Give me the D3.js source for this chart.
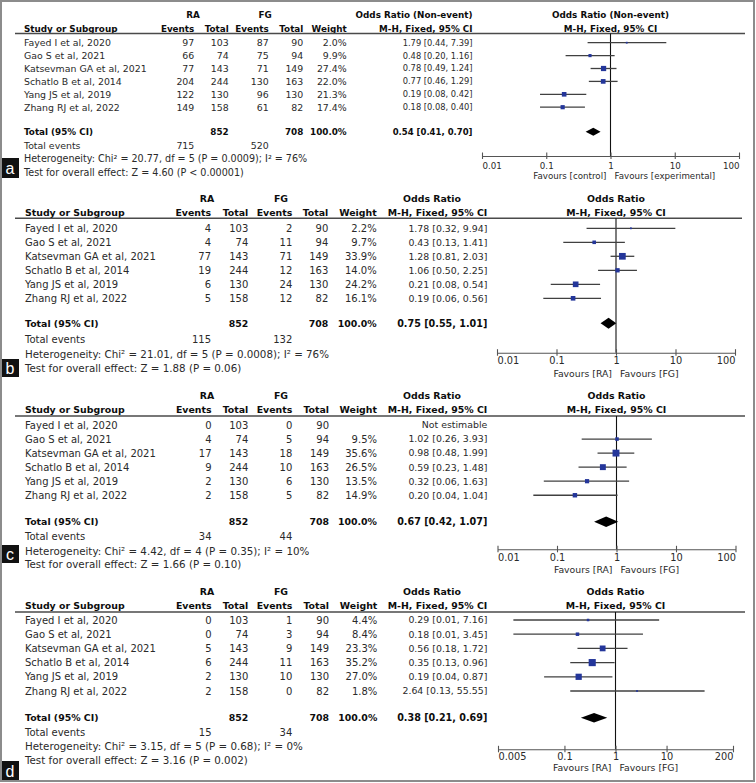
<!DOCTYPE html>
<html><head><meta charset="utf-8">
<script src="https://cdn.jsdelivr.net/npm/d3@7"></script>
<style>
body{margin:0;background:#fff;}
svg{display:block;font-family:"DejaVu Sans",sans-serif;}
</style></head><body>
<svg id="chart" width="756" height="783"></svg>
<script>
// ---------- data ----------
const studies = ["Fayed I et al, 2020","Gao S et al, 2021","Katsevman GA et al, 2021","Schatlo B et al, 2014","Yang JS et al, 2019","Zhang RJ et al, 2022"];
const raTotals = [103,74,143,244,130,158];
const fgTotals = [90,94,149,163,130,82];
const grandTotals = [852,708];

const raEventsA = [97,66,77,204,122,149];
const fgEventsA = [87,75,71,130,96,61];
const weightsA = [2.0,9.9,27.4,22.0,21.3,17.4];
const orA = [1.79,0.48,0.78,0.77,0.19,0.18];
const lowerA = [0.44,0.20,0.49,0.46,0.08,0.08];
const upperA = [7.39,1.16,1.24,1.29,0.42,0.40];
const pooledA = [0.54,0.41,0.70];
const totalEventsA = [715,520];
const hetA = "Heterogeneity: Chi\u00b2 = 20.77, df = 5 (P = 0.0009); I\u00b2 = 76%";
const testA = "Test for overall effect: Z = 4.60 (P < 0.00001)";

const raEventsB = [4,4,77,19,6,5];
const fgEventsB = [2,11,71,12,24,12];
const weightsB = [2.2,9.7,33.9,14.0,24.2,16.1];
const orB = [1.78,0.43,1.28,1.06,0.21,0.19];
const lowerB = [0.32,0.13,0.81,0.50,0.08,0.06];
const upperB = [9.94,1.41,2.03,2.25,0.54,0.56];
const pooledB = [0.75,0.55,1.01];
const totalEventsB = [115,132];
const hetB = "Heterogeneity: Chi\u00b2 = 21.01, df = 5 (P = 0.0008); I\u00b2 = 76%";
const testB = "Test for overall effect: Z = 1.88 (P = 0.06)";

const raEventsC = [0,4,17,9,2,2];
const fgEventsC = [0,5,18,10,6,5];
const weightsC = [null,9.5,35.6,26.5,13.5,14.9];
const orC = [null,1.02,0.98,0.59,0.32,0.20];
const lowerC = [null,0.26,0.48,0.23,0.06,0.04];
const upperC = [null,3.93,1.99,1.48,1.63,1.04];
const pooledC = [0.67,0.42,1.07];
const totalEventsC = [34,44];
const hetC = "Heterogeneity: Chi\u00b2 = 4.42, df = 4 (P = 0.35); I\u00b2 = 10%";
const testC = "Test for overall effect: Z = 1.66 (P = 0.10)";

const raEventsD = [0,0,5,6,2,2];
const fgEventsD = [1,3,9,11,10,0];
const weightsD = [4.4,8.4,23.3,35.2,27.0,1.8];
const orD = [0.29,0.18,0.56,0.35,0.19,2.64];
const lowerD = [0.01,0.01,0.18,0.13,0.04,0.13];
const upperD = [7.16,3.45,1.72,0.96,0.87,55.55];
const pooledD = [0.38,0.21,0.69];
const totalEventsD = [15,34];
const hetD = "Heterogeneity: Chi\u00b2 = 3.15, df = 5 (P = 0.68); I\u00b2 = 0%";
const testD = "Test for overall effect: Z = 3.16 (P = 0.002)";

const ticksStd = [0.01,0.1,1,10,100];
const ticksD = [0.005,0.1,1,10,200];
const favoursA = ["Favours [control]","Favours [experimental]"];
const favoursRA = ["Favours [RA]","Favours [FG]"];
const orTitleA = "Odds Ratio (Non-event)";
const orTitle = "Odds Ratio";
const methodTitle = "M-H, Fixed, 95% CI";

// ---------- drawing ----------
const svg = d3.select("#chart");
svg.append("rect").attr("x",0).attr("y",0).attr("width",756).attr("height",783).attr("fill","#fff");

const fmt2 = d3.format(".2f");
const fmtW = d3.format(".1f");
const TXT = "#2a2a2a", BOLD = "#0d0d0d";

function orText(o,l,h){ return o==null ? "Not estimable" : fmt2(o)+" ["+fmt2(l)+", "+fmt2(h)+"]"; }

const panels = [
 {label:"a", raE:raEventsA, fgE:fgEventsA, w:weightsA, or:orA, lo:lowerA, hi:upperA, pooled:pooledA, tev:totalEventsA, het:hetA, test:testA, ticks:ticksStd, fav:favoursA, orTitle:orTitleA,
  L:{fs:9.4, fsLong:9.6, fsOr:8.3, fsB:8.8, fsOrB:8.5, fsTick:8.7, fsFav:8.7, tx:24, cols:[194.3,228.7,268.7,303.3,346.7,472.5], raC:193, fgC:265, orHdAnchor:"end", orHdX:472.5,
     h1:15, h2:29, rule:33.5, row0:42.7, step:12.9, total:131.7, tev:145.7, het:159, test:172.3, axisY:156, tickY:165.7, favY:176, range:[482,739], sq:1.0, dh:8, box:[158,20], ruleEnd:745}},
 {label:"b", raE:raEventsB, fgE:fgEventsB, w:weightsB, or:orB, lo:lowerB, hi:upperB, pooled:pooledB, tev:totalEventsB, het:hetB, test:testB, ticks:ticksStd, fav:favoursRA, orTitle:orTitle,
  L:{fs:10, fsLong:10.3, fsOr:9.4, fsB:9.4, fsOrB:9.6, fsTick:9.8, fsFav:9.3, tx:25, cols:[211,248.3,292.3,328.3,376.7,487.3], raC:207, fgC:281, orHdAnchor:"middle", orHdX:432,
     h1:199, h2:212.7, rule:218.3, row0:228.3, step:14, total:323.3, tev:339.3, het:354.3, test:368.3, axisY:352.7, tickY:360.7, favY:373.3, range:[497,735], sq:1.15, dh:11, box:[359,18], ruleEnd:742}},
 {label:"c", raE:raEventsC, fgE:fgEventsC, w:weightsC, or:orC, lo:lowerC, hi:upperC, pooled:pooledC, tev:totalEventsC, het:hetC, test:testC, ticks:ticksStd, fav:favoursRA, orTitle:orTitle,
  L:{fs:10, fsLong:10.3, fsOr:9.4, fsB:9.4, fsOrB:9.6, fsTick:9.8, fsFav:9.3, tx:25, cols:[211.5,248.3,292.3,329,377,487.3], raC:207, fgC:281, orHdAnchor:"middle", orHdX:432,
     h1:396, h2:410, rule:416, row0:425, step:14.05, total:521.7, tev:536.7, het:551.3, test:564.3, axisY:549.3, tickY:557, favY:569.3, range:[497.5,735.5], sq:1.15, dh:10.5, box:[545,18], ruleEnd:745}},
 {label:"d", raE:raEventsD, fgE:fgEventsD, w:weightsD, or:orD, lo:lowerD, hi:upperD, pooled:pooledD, tev:totalEventsD, het:hetD, test:testD, ticks:ticksD, fav:favoursRA, orTitle:orTitle,
  L:{fs:10, fsLong:10.3, fsOr:9.4, fsB:9.4, fsOrB:9.6, fsTick:9.8, fsFav:9.3, tx:25, cols:[211.5,248.3,292.3,329,377.3,487.3], raC:207, fgC:281, orHdAnchor:"middle", orHdX:432,
     h1:591.7, h2:605.7, rule:612, row0:620, step:14.2, total:717.7, tev:732.7, het:746, test:760, axisY:749.3, tickY:756.5, favY:767.7, range:[498,733], sq:1.2, dh:9.5, box:[761,21], ruleEnd:745}}
];

function txt(g, x, y, s, opt){
  opt = opt||{};
  return g.append("text").attr("x",x).attr("y",y).attr("dy","0.36em")
    .attr("text-anchor",opt.anchor||"start")
    .attr("font-size",opt.fs||10)
    .attr("font-weight",opt.bold?"bold":"normal")
    .attr("fill",opt.bold?BOLD:TXT)
    .text(s);
}

panels.forEach(p => {
  const L = p.L, g = svg.append("g");
  const yRow = d3.scaleLinear().domain([0,1]).range([L.row0, L.row0+L.step]);
  const x = d3.scaleLog().domain([p.ticks[0], p.ticks[p.ticks.length-1]]).range(L.range);
  const x1 = x(1);
  const c = L.cols;

  // header
  txt(g, L.raC, L.h1, "RA", {bold:true, fs:L.fsB, anchor:"middle"});
  txt(g, L.fgC, L.h1, "FG", {bold:true, fs:L.fsB, anchor:"middle"});
  txt(g, L.orHdX, L.h1, p.orTitle, {bold:true, fs:L.fsB, anchor:L.orHdAnchor});
  txt(g, x1, L.h1, p.orTitle, {bold:true, fs:L.fsB, anchor:"middle"});
  txt(g, L.tx, L.h2, "Study or Subgroup", {bold:true, fs:L.fsB});
  ["Events","Total","Events","Total","Weight",methodTitle].forEach((h,i)=>{
    txt(g, c[i], L.h2, h, {bold:true, fs:L.fsB, anchor:"end"});
  });
  txt(g, x1, L.h2, methodTitle, {bold:true, fs:L.fsB, anchor:"middle"});
  g.append("line").attr("x1",15).attr("x2",L.ruleEnd).attr("y1",L.rule).attr("y2",L.rule)
    .attr("stroke","#4a4a4a").attr("stroke-width",1.4);

  // study rows
  studies.forEach((s,i)=>{
    const y = yRow(i);
    txt(g, L.tx, y, s, {fs:L.fs});
    txt(g, c[0], y, p.raE[i], {fs:L.fs, anchor:"end"});
    txt(g, c[1], y, raTotals[i], {fs:L.fs, anchor:"end"});
    txt(g, c[2], y, p.fgE[i], {fs:L.fs, anchor:"end"});
    txt(g, c[3], y, fgTotals[i], {fs:L.fs, anchor:"end"});
    if (p.w[i]!=null) txt(g, c[4], y, fmtW(p.w[i])+"%", {fs:L.fs, anchor:"end"});
    txt(g, c[5], y, orText(p.or[i],p.lo[i],p.hi[i]), {fs:L.fsOr, anchor:"end"});
  });

  // totals
  txt(g, L.tx, L.total, "Total (95% CI)", {bold:true, fs:L.fsB});
  txt(g, c[1], L.total, grandTotals[0], {bold:true, fs:L.fsB, anchor:"end"});
  txt(g, c[3], L.total, grandTotals[1], {bold:true, fs:L.fsB, anchor:"end"});
  txt(g, c[4], L.total, "100.0%", {bold:true, fs:L.fsB, anchor:"end"});
  txt(g, c[5], L.total, orText(p.pooled[0],p.pooled[1],p.pooled[2]), {bold:true, fs:L.fsOrB, anchor:"end"});
  txt(g, L.tx, L.tev, "Total events", {fs:L.fs});
  txt(g, c[0], L.tev, p.tev[0], {fs:L.fs, anchor:"end"});
  txt(g, c[2], L.tev, p.tev[1], {fs:L.fs, anchor:"end"});
  txt(g, L.tx, L.het, p.het, {fs:L.fsLong});
  txt(g, L.tx, L.test, p.test, {fs:L.fsLong});

  // plot: null line
  g.append("line").attr("x1",x1).attr("x2",x1).attr("y1",L.rule).attr("y2",L.axisY)
    .attr("stroke","#111").attr("stroke-width",1.1);

  // CIs and squares
  studies.forEach((s,i)=>{
    if (p.or[i]==null) return;
    const y = yRow(i);
    g.append("line").attr("x1",x(p.lo[i])).attr("x2",x(p.hi[i])).attr("y1",y).attr("y2",y)
      .attr("stroke","#404040").attr("stroke-width",1.3);
    const side = Math.max(1.8, L.sq*Math.sqrt(p.w[i]));
    g.append("rect").attr("x",x(p.or[i])-side/2).attr("y",y-side/2).attr("width",side).attr("height",side)
      .attr("fill","#24369a");
  });

  // diamond
  const [po,pl,ph] = p.pooled;
  g.append("path").attr("d",
    `M${x(pl)},${L.total}L${x(po)},${L.total-L.dh/2}L${x(ph)},${L.total}L${x(po)},${L.total+L.dh/2}Z`)
    .attr("fill","#000");

  // axis
  const ax = d3.axisBottom(x).tickValues(p.ticks).tickSizeInner(3).tickSizeOuter(0).tickPadding(3)
    .tickFormat(d => String(d));
  const ag = g.append("g").attr("transform",`translate(0,${L.axisY})`).call(ax);
  ag.select(".domain").attr("stroke","#555").attr("stroke-width",1.1);
  ag.selectAll(".tick line").attr("y1",-3.5).attr("y2",3).attr("stroke","#555").attr("stroke-width",1.1);
  const n = p.ticks.length;
  ag.selectAll(".tick text")
    .attr("y", L.tickY - L.axisY).attr("dy","0.36em")
    .attr("font-family","DejaVu Sans").attr("font-size",L.fsTick).attr("fill",TXT)
    .attr("text-anchor",(d,i)=> i===0?"start":(i===n-1?"end":"middle"));

  // favours
  txt(g, x1-4, L.favY, p.fav[0], {fs:L.fsFav, anchor:"end"});
  txt(g, x1+4, L.favY, p.fav[1], {fs:L.fsFav, anchor:"start"});

  // panel label
  g.append("rect").attr("x",1).attr("y",L.box[0]).attr("width",18).attr("height",L.box[1]).attr("fill","#111");
  g.append("text").attr("x",10).attr("y",L.box[0]+L.box[1]/2).attr("dy","0.36em")
    .attr("text-anchor","middle").attr("font-family","Liberation Sans, Arial, sans-serif")
    .attr("font-size",16).attr("fill","#fff").text(p.label);
});

// outer frame
svg.append("rect").attr("x",1).attr("y",1).attr("width",753).attr("height",780)
  .attr("fill","none").attr("stroke","#8c8c8c").attr("stroke-width",2);
</script>
</body></html>
